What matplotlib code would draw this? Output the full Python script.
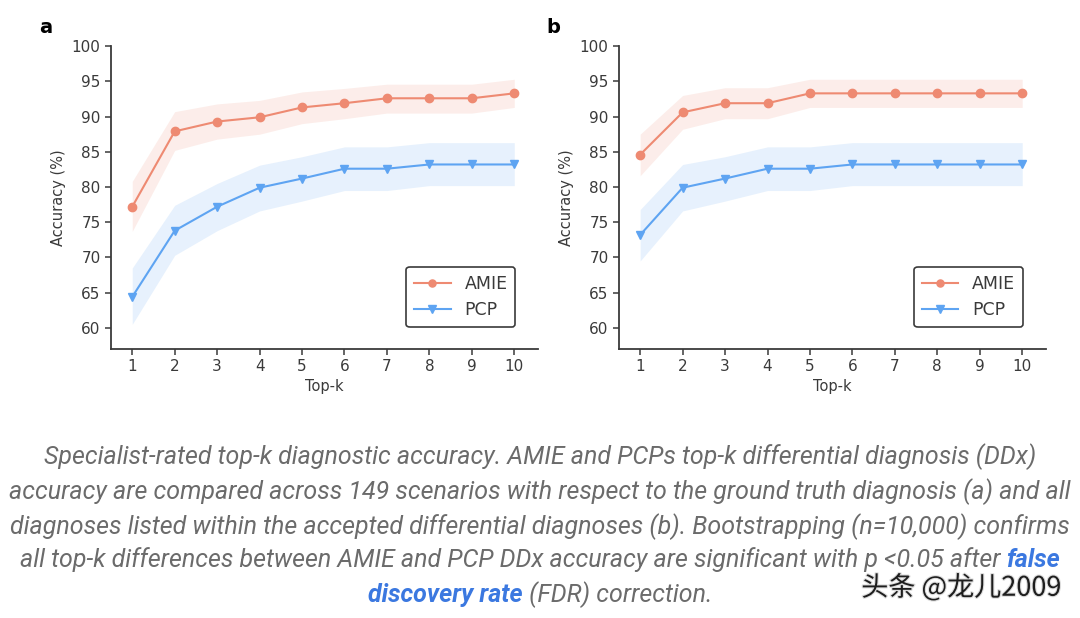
import matplotlib
matplotlib.use('Agg')
import matplotlib.pyplot as plt
import matplotlib.patheffects as pe
import numpy as np

plt.rcParams['font.family'] = ['DejaVu Sans']

# dados
topk = [1, 2, 3, 4, 5, 6, 7, 8, 9, 10]

amie_a = [77.2, 87.9, 89.3, 89.9, 91.3, 91.9, 92.6, 92.6, 92.6, 93.3]
amie_a_lo = [73.7, 85.2, 86.8, 87.5, 89.0, 89.7, 90.5, 90.5, 90.5, 91.3]
amie_a_hi = [80.8, 90.7, 91.8, 92.3, 93.5, 94.0, 94.6, 94.6, 94.6, 95.3]
pcp_a = [64.4, 73.8, 77.2, 79.9, 81.2, 82.6, 82.6, 83.2, 83.2, 83.2]
pcp_a_lo = [60.5, 70.3, 73.8, 76.6, 78.0, 79.5, 79.5, 80.2, 80.2, 80.2]
pcp_a_hi = [68.5, 77.4, 80.5, 83.1, 84.3, 85.7, 85.7, 86.3, 86.3, 86.3]

amie_b = [84.6, 90.6, 91.9, 91.9, 93.3, 93.3, 93.3, 93.3, 93.3, 93.3]
amie_b_lo = [81.6, 88.2, 89.7, 89.7, 91.3, 91.3, 91.3, 91.3, 91.3, 91.3]
amie_b_hi = [87.5, 93.0, 94.1, 94.1, 95.3, 95.3, 95.3, 95.3, 95.3, 95.3]
pcp_b = [73.2, 79.9, 81.2, 82.6, 82.6, 83.2, 83.2, 83.2, 83.2, 83.2]
pcp_b_lo = [69.5, 76.6, 78.0, 79.5, 79.5, 80.2, 80.2, 80.2, 80.2, 80.2]
pcp_b_hi = [76.8, 83.2, 84.3, 85.7, 85.7, 86.3, 86.3, 86.3, 86.3, 86.3]

yticks = [60, 65, 70, 75, 80, 85, 90, 95, 100]

cor_amie = '#ee8a72'
cor_pcp = '#5ea4f2'
cinza = '#3a3a3a'

fig = plt.figure(figsize=(10.8, 6.18), dpi=100)
fig.patch.set_facecolor('white')

def painel(rect, letra, amie, amie_lo, amie_hi, pcp, pcp_lo, pcp_hi):
    ax = fig.add_axes(rect)
    ax.fill_between(topk, amie_lo, amie_hi, color=cor_amie, alpha=0.15, linewidth=0)
    ax.fill_between(topk, pcp_lo, pcp_hi, color=cor_pcp, alpha=0.15, linewidth=0)
    ax.plot(topk, amie, color=cor_amie, marker='o', markersize=6, linewidth=1.5, label='AMIE')
    ax.plot(topk, pcp, color=cor_pcp, marker='v', markersize=6, linewidth=1.5, label='PCP')
    ax.set_xlim(0.5, 10.55)
    ax.set_ylim(57, 100)
    ax.set_xticks(topk)
    ax.set_yticks(yticks)
    ax.spines['top'].set_visible(False)
    ax.spines['right'].set_visible(False)
    for s in ['left', 'bottom']:
        ax.spines[s].set_color(cinza)
        ax.spines[s].set_linewidth(1.3)
    ax.tick_params(colors=cinza, labelsize=11, width=1.1, length=4)
    ax.set_xlabel('Top-k', fontsize=10.5, color=cinza, labelpad=3)
    ax.set_ylabel('Accuracy (%)', fontsize=10.5, color=cinza, labelpad=4)
    leg = ax.legend(loc='lower right', bbox_to_anchor=(0.96, 0.055), fontsize=12.5,
                    frameon=True, fancybox=True, edgecolor=cinza, handlelength=2.1,
                    borderpad=0.45, labelspacing=0.5, handletextpad=0.8, markerscale=0.85,
                    borderaxespad=0.3)
    leg.get_frame().set_linewidth(1.2)
    leg.get_frame().set_alpha(1)
    for t in leg.get_texts():
        t.set_color(cinza)
    fig.text(rect[0] - 0.067, 0.955, letra, fontsize=14, fontweight='bold', ha='left', va='center')
    return ax

painel([0.1028, 0.4353, 0.395, 0.490], 'a', amie_a, amie_a_lo, amie_a_hi, pcp_a, pcp_a_lo, pcp_a_hi)
painel([0.5731, 0.4353, 0.395, 0.490], 'b', amie_b, amie_b_lo, amie_b_hi, pcp_b, pcp_b_lo, pcp_b_hi)

# legenda (texto)
linhas = [
    'Specialist-rated top-k diagnostic accuracy. AMIE and PCPs top-k differential diagnosis (DDx)',
    'accuracy are compared across 149 scenarios with respect to the ground truth diagnosis (a) and all',
    'diagnoses listed within the accepted differential diagnoses (b). Bootstrapping (n=10,000) confirms',
]
ys = [457, 492, 527, 560, 595]
fonte = dict(family='Roboto', style='italic', fontsize=18)
cor_txt = '#6b6b6b'
cor_link = '#3b78e0'
for linha, y in zip(linhas, ys[:3]):
    fig.text(0.5, 1 - y / 618, linha, ha='center', va='center', color=cor_txt, **fonte)

fig.canvas.draw()
r = fig.canvas.get_renderer()

def largura(txt, **kw):
    t = fig.text(0, 0, txt, **kw)
    w = t.get_window_extent(renderer=r).width
    t.remove()
    return w

# linha 4: texto cinza + "false" em azul
p1 = 'all top-k differences between AMIE and PCP DDx accuracy are significant with p <0.05 after '
p2 = 'false'
w1 = largura(p1, color=cor_txt, **fonte)
w2 = largura(p2, fontweight='bold', **fonte)
x0 = (1080 - (w1 + w2)) / 2
y4 = 1 - ys[3] / 618
fig.text(x0 / 1080, y4, p1, ha='left', va='center', color=cor_txt, **fonte)
fig.text((x0 + w1) / 1080, y4, p2, ha='left', va='center', color=cor_link, fontweight='bold', **fonte)

# linha 5
q1 = 'discovery rate'
q2 = ' (FDR) correction.'
v1 = largura(q1, fontweight='bold', **fonte)
v2 = largura(q2, color=cor_txt, **fonte)
x0 = (1080 - (v1 + v2)) / 2
y5 = 1 - ys[4] / 618
fig.text(x0 / 1080, y5, q1, ha='left', va='center', color=cor_link, fontweight='bold', **fonte)
fig.text((x0 + v1) / 1080, y5, q2, ha='left', va='center', color=cor_txt, **fonte)

# marca d'agua
fig.text(1062 / 1080, 1 - 588 / 618, '头条 @龙儿2009', ha='right', va='center', fontsize=19.5,
         family=['Noto Sans CJK SC', 'DejaVu Sans'], color='#1e1e1e',
         path_effects=[pe.withStroke(linewidth=1.6, foreground='#dddddd')])

plt.savefig('out.png', dpi=100)
plt.close()
